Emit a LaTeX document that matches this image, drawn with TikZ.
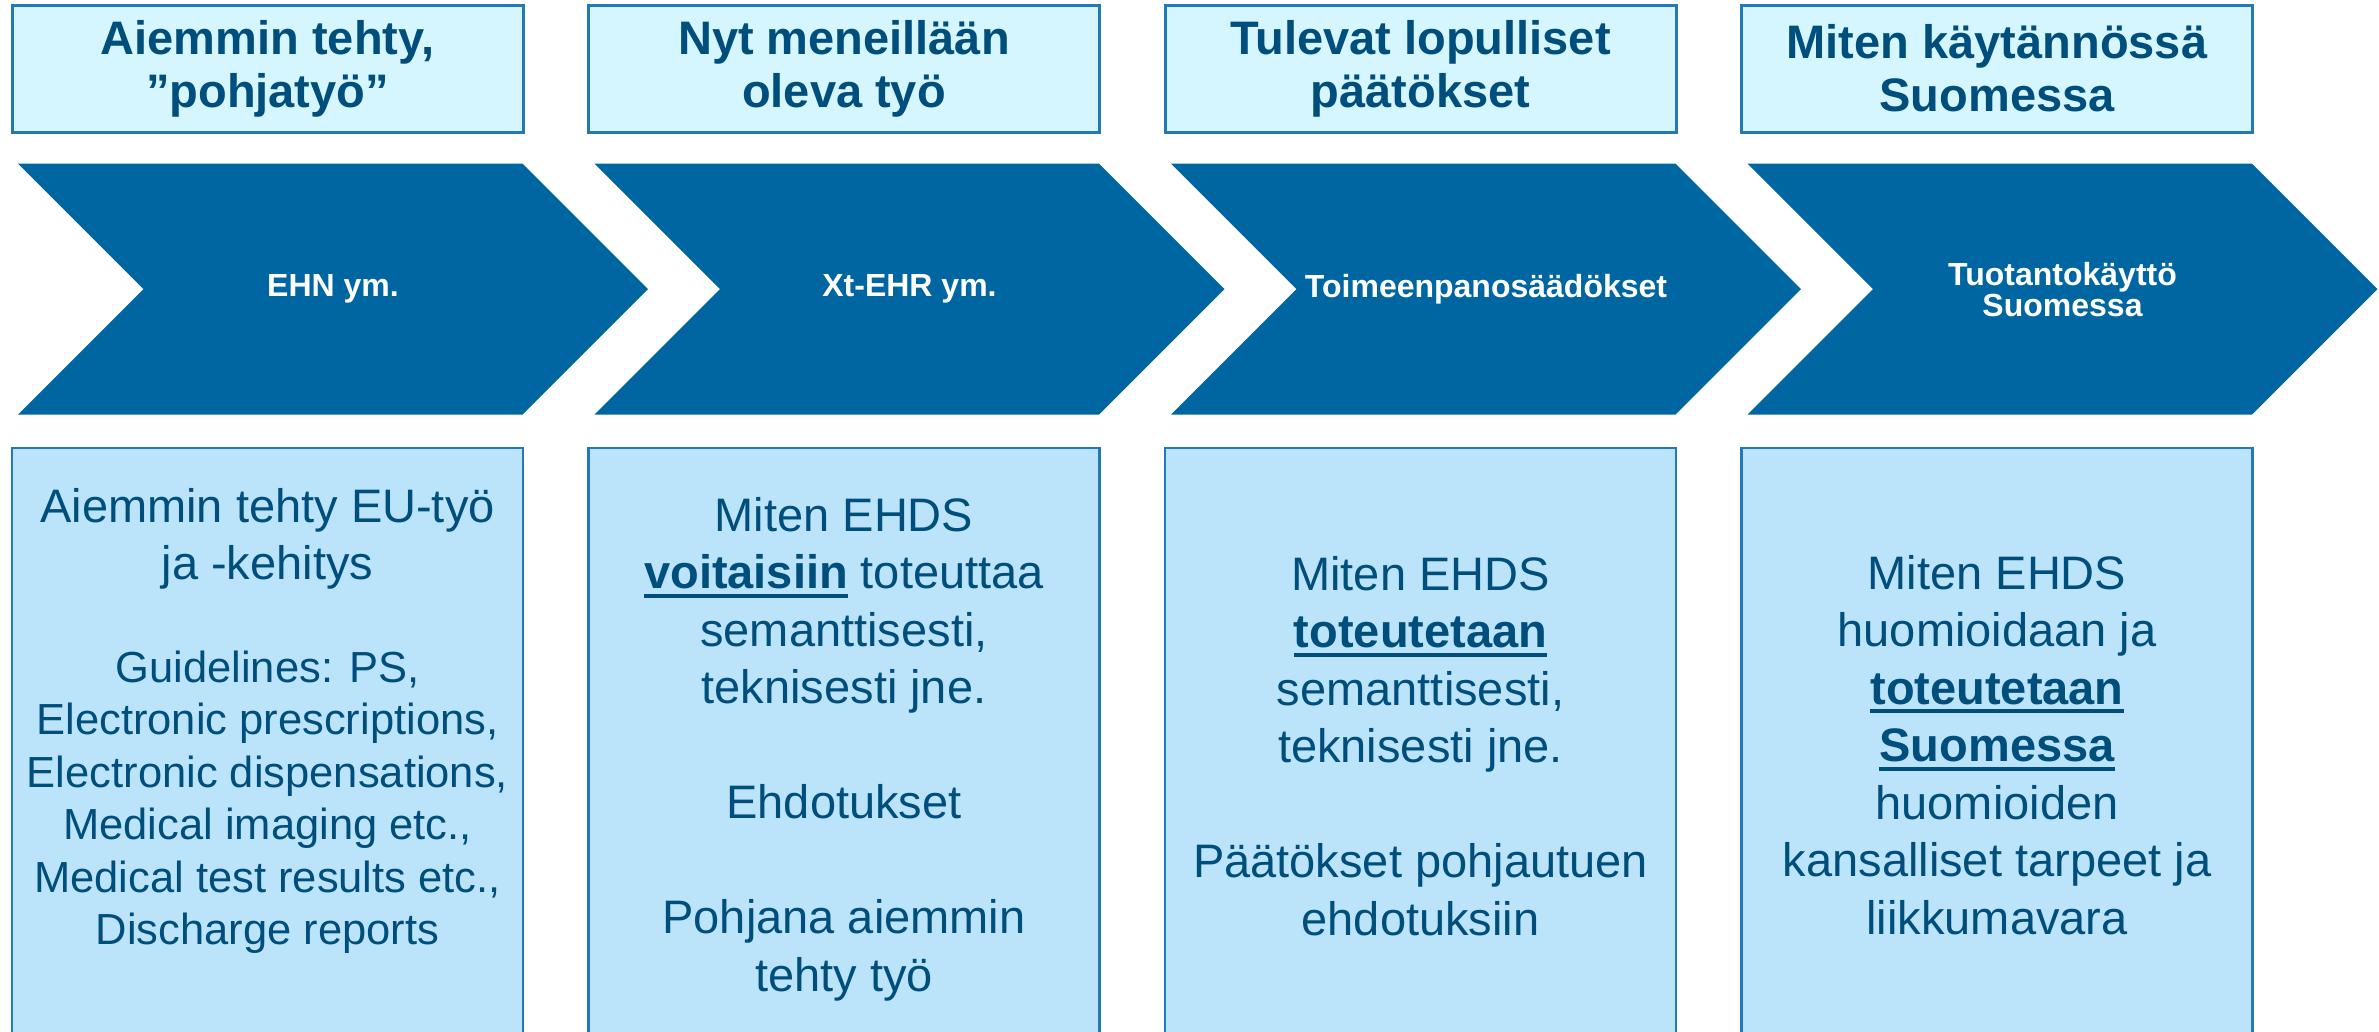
\documentclass[tikz,border=0pt]{standalone}
\usepackage{fontspec}
\setmainfont{Liberation Sans}
\usetikzlibrary{positioning,shapes.symbols}

\definecolor{headfill}{HTML}{D5F5FF}
\definecolor{infofill}{HTML}{BBE4FA}
\definecolor{boxline}{HTML}{2378B5}
\definecolor{chevblue}{HTML}{0066A2}
\definecolor{txtblue}{HTML}{004E7C}

% bold word with a rule under it
\newcommand\ulbold[1]{\leavevmode\setbox0=\hbox{\bfseries #1}\rlap{\rule[-0.19em]{\wd0}{0.085em}}\box0\relax}

\begin{document}
\begin{tikzpicture}[x=1pt,y=-1pt,
    headbox/.style={draw=boxline,fill=headfill,line width=3pt,minimum width=511pt,
      minimum height=127pt,inner sep=0pt,align=center,text=txtblue,
      font=\fontsize{47}{53}\selectfont\bfseries},
    chevron/.style={shape=signal,signal from=west,signal to=east,signal pointer angle=90,
      fill=chevblue,minimum width=630pt,minimum height=251pt,inner sep=0pt,
      text=white,align=center,font=\fontsize{32}{31}\selectfont\bfseries},
    infobox/.style={draw=boxline,fill=infofill,line width=2.5pt,minimum width=511pt,
      minimum height=620pt,inner sep=0pt},
    infotext/.style={align=center,text=txtblue,font=\fontsize{47}{57.5}\selectfont}]

    \useasboundingbox (0,0) rectangle (2379,1031);
    \clip (0,0) rectangle (2379,1031);
    \fill[white] (0,0) rectangle (2379,1031);

    % Header boxes
    \node[headbox] (head1) at (267.5,68.5) {Aiemmin tehty,\\”pohjatyö”};
    \node[headbox] (head2) [right=62.5pt of head1] {Nyt meneillään\\oleva työ};
    \node[headbox] (head3) [right=62.5pt of head2] {Tulevat lopulliset\\päätökset};
    \node[headbox] (head4) [right=62.5pt of head3] {Miten käytännössä\\Suomessa};

    % Chevrons
    \node[chevron] (chev1) [below=30pt of head1,xshift=65.5pt] {EHN ym.};
    \node[chevron] (chev2) [below=30pt of head2,xshift=65.5pt] {Xt-EHR ym.};
    \node[chevron] (chev3) [below=30pt of head3,xshift=65.5pt] {Toimeenpanosäädökset};
    \node[chevron] (chev4) [below=30pt of head4,xshift=65.5pt] {Tuotantokäyttö\\Suomessa};

    % Info boxes
    \node[infobox] (info1) [below=313pt of head1] {};
    \node[infobox] (info2) [below=313pt of head2] {};
    \node[infobox] (info3) [below=313pt of head3] {};
    \node[infobox] (info4) [below=313pt of head4] {};

    % Texts of the info boxes
    \node[infotext] (txt1a) at (info1 |- 0,539) {Aiemmin tehty EU-työ\\ja -kehitys};
    \node[infotext,font=\fontsize{43.5}{52.5}\selectfont] (txt1b) at (info1 |- 0,802)
      {Guidelines: PS,\\Electronic prescriptions,\\Electronic dispensations,\\
       Medical imaging etc.,\\Medical test results etc.,\\Discharge reports};
    \node[infotext] (txt2) at (info2 |- 0,749)
      {Miten EHDS\\\ulbold{voitaisiin} toteuttaa\\semanttisesti,\\teknisesti jne.\\[57.5pt]
       Ehdotukset\\[57.5pt]Pohjana aiemmin\\tehty työ};
    \node[infotext] (txt3) at (info3 |- 0,746)
      {Miten EHDS\\\ulbold{toteutetaan}\\semanttisesti,\\teknisesti jne.\\[57.5pt]
       Päätökset pohjautuen\\ehdotuksiin};
    \node[infotext] (txt4) at (info4 |- 0,745)
      {Miten EHDS\\huomioidaan ja\\\ulbold{toteutetaan}\\\ulbold{Suomessa}\\huomioiden\\
       kansalliset tarpeet ja\\liikkumavara};

\end{tikzpicture}
\end{document}
